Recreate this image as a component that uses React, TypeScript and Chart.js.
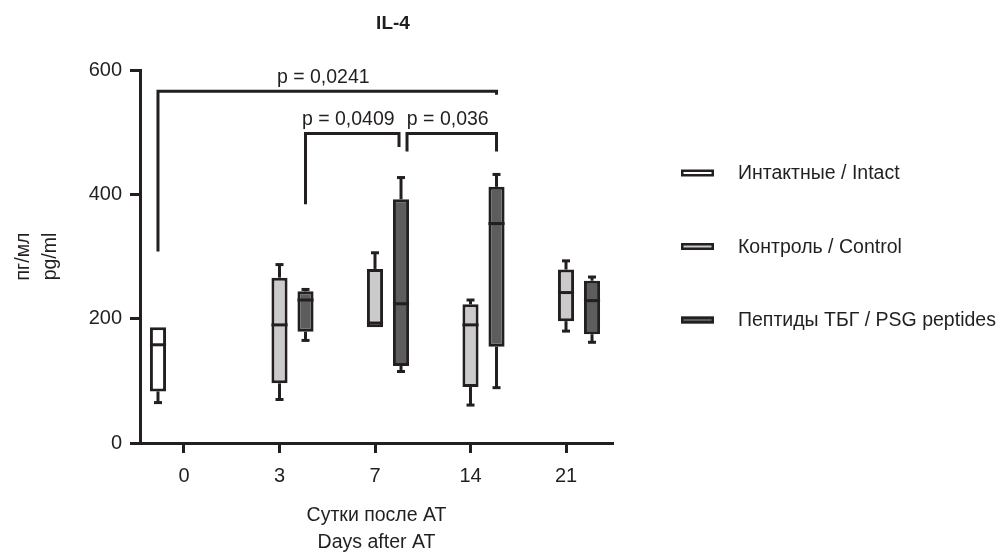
import React, { useEffect, useRef } from 'react';
import { Chart, registerables } from 'chart.js';

Chart.register(...registerables);

// ---------- data ----------
const chartTitle = 'IL-4';
const dayLabels = ['0', '3', '7', '14', '21'];
const yTicks = [0, 200, 400, 600];

const seriesNames = ['Интактные / Intact', 'Контроль / Control', 'Пептиды ТБГ / PSG peptides'];
const seriesFill = ['#ffffff', '#cbcbcb', '#5d5d5d'];

const intactMin = [65, null, null, null, null];
const intactQ1 = [83, null, null, null, null];
const intactMedian = [158, null, null, null, null];
const intactQ3 = [186, null, null, null, null];
const intactMax = [186, null, null, null, null];

const controlMin = [null, 70, 186, 61, 180];
const controlQ1 = [null, 96, 186, 90, 196];
const controlMedian = [null, 190, 193, 190, 242];
const controlQ3 = [null, 266, 280, 223, 279];
const controlMax = [null, 287, 306, 230, 293];

const psgMin = [null, 165, 115, 89, 162];
const psgQ1 = [null, 179, 124, 155, 175];
const psgMedian = [null, 230, 224, 353, 229];
const psgQ3 = [null, 244, 392, 412, 261];
const psgMax = [null, 247, 427, 432, 267];

const pLabels = ['p = 0,0241', 'p = 0,0409', 'p = 0,036'];
const bracketFromDay = [0, 1, 2];
const bracketFromSeries = [0, 2, 2];
const bracketToDay = [3, 2, 3];
const bracketToSeries = [2, 2, 2];
const bracketLevel = [566, 498, 498];
const bracketLeftEnd = [308, 384, 469];
const bracketRightEnd = [560, 476, 469];

// ---------- styles ----------
const INK = '#231f20';
const FONT = '"Liberation Sans", Arial, sans-serif';
const TICK_SIZE = 20;
const TEXT_SIZE = 19.5;

const stats = [
  { min: intactMin, q1: intactQ1, median: intactMedian, q3: intactQ3, max: intactMax },
  { min: controlMin, q1: controlQ1, median: controlMedian, q3: controlQ3, max: controlMax },
  { min: psgMin, q1: psgQ1, median: psgMedian, q3: psgQ3, max: psgMax },
];

function seg(ctx: CanvasRenderingContext2D, x1: number, y1: number, x2: number, y2: number) {
  ctx.beginPath();
  ctx.moveTo(x1, y1);
  ctx.lineTo(x2, y2);
  ctx.stroke();
}

const boxPlugin = {
  id: 'boxWhiskers',
  afterDatasetsDraw(chart: any) {
    const { ctx } = chart;
    const y = chart.scales.y;
    ctx.save();
    ctx.strokeStyle = INK;
    ctx.lineWidth = 3;
    ctx.lineCap = 'butt';
    stats.forEach((s, di) => {
      const meta = chart.getDatasetMeta(di);
      meta.data.forEach((el: any, i: number) => {
        if (s.q1[i] == null) return;
        const x = el.x;
        const half = el.width / 2;
        const yMed = y.getPixelForValue(s.median[i]);
        seg(ctx, x - half, yMed, x + half, yMed);
        const yQ1 = y.getPixelForValue(s.q1[i]);
        const yQ3 = y.getPixelForValue(s.q3[i]);
        const yMin = y.getPixelForValue(s.min[i]);
        const yMax = y.getPixelForValue(s.max[i]);
        if ((s.max[i] as number) > (s.q3[i] as number)) {
          seg(ctx, x, yQ3, x, yMax);
          seg(ctx, x - 4, yMax, x + 4, yMax);
        }
        if ((s.min[i] as number) < (s.q1[i] as number)) {
          seg(ctx, x, yQ1, x, yMin);
          seg(ctx, x - 4, yMin, x + 4, yMin);
        }
      });
    });
    ctx.restore();
  },
  afterDraw(chart: any) {
    const { ctx, chartArea } = chart;
    const y = chart.scales.y;
    ctx.save();
    // title
    ctx.fillStyle = INK;
    ctx.font = `bold 19px ${FONT}`;
    ctx.textAlign = 'center';
    ctx.textBaseline = 'middle';
    ctx.fillText(chartTitle, chartArea.left + 253, chartArea.top - 46);

    ctx.strokeStyle = INK;
    ctx.lineWidth = 3;
    ctx.lineCap = 'butt';
    ctx.lineJoin = 'miter';
    // significance brackets
    pLabels.forEach((label, b) => {
      const elL = chart.getDatasetMeta(bracketFromSeries[b]).data[bracketFromDay[b]];
      const elR = chart.getDatasetMeta(bracketToSeries[b]).data[bracketToDay[b]];
      let xl = elL.x;
      let xr = elR.x;
      pLabels.forEach((_, o) => {
        if (o === b) return;
        if (bracketToSeries[o] === bracketFromSeries[b] && bracketToDay[o] === bracketFromDay[b]) xl += 6;
        if (bracketFromSeries[o] === bracketToSeries[b] && bracketFromDay[o] === bracketToDay[b]) xr -= 2;
      });
      const yl = y.getPixelForValue(bracketLevel[b]);
      ctx.beginPath();
      ctx.moveTo(xl, y.getPixelForValue(bracketLeftEnd[b]));
      ctx.lineTo(xl, yl);
      ctx.lineTo(xr, yl);
      ctx.lineTo(xr, y.getPixelForValue(bracketRightEnd[b]));
      ctx.stroke();
      ctx.font = `${TEXT_SIZE}px ${FONT}`;
      ctx.textAlign = 'center';
      ctx.textBaseline = 'alphabetic';
      ctx.fillText(label, (xl + xr) / 2 - 4, yl - 8);
    });
    // legend
    const lx = chartArea.right + 68;
    seriesNames.forEach((name, i) => {
      const cy = chartArea.top + 103 + i * 73.5;
      ctx.fillStyle = seriesFill[i];
      ctx.fillRect(lx, cy - 3.5, 33, 7);
      ctx.lineWidth = 2.5;
      ctx.strokeStyle = INK;
      ctx.strokeRect(lx + 1.25, cy - 3.5 + 1.25, 33 - 2.5, 7 - 2.5);
      ctx.fillStyle = INK;
      ctx.font = `${TEXT_SIZE}px ${FONT}`;
      ctx.textAlign = 'left';
      ctx.textBaseline = 'middle';
      ctx.fillText(name, lx + 57, cy + 1);
    });
    ctx.restore();
  },
};

export default function App() {
  const ref = useRef<HTMLCanvasElement | null>(null);

  useEffect(() => {
    if (!ref.current) return;
    const tickFont = { family: FONT, size: TICK_SIZE, lineHeight: 1.2 };
    const titleFont = { family: FONT, size: TEXT_SIZE, lineHeight: 27 / TEXT_SIZE };
    const chart = new Chart(ref.current, {
      type: 'bar',
      data: {
        datasets: stats.map((s, di) => ({
          label: seriesNames[di],
          data: dayLabels.map((_, i) => ({ x: i, y: s.q1[i] == null ? null : [s.q1[i], s.q3[i]] })),
          backgroundColor: seriesFill[di],
          borderColor: INK,
          borderWidth: 3,
          borderSkipped: false,
          categoryPercentage: 0.817,
          barPercentage: 0.62,
        })) as any,
      },
      plugins: [boxPlugin],
      options: {
        animation: false,
        responsive: true,
        maintainAspectRatio: false,
        layout: { padding: { top: 70, left: 0, right: 390, bottom: 0 } },
        plugins: {
          legend: { display: false },
          tooltip: { enabled: false },
          title: { display: false },
        },
        scales: {
          x: {
            type: 'linear',
            offset: false,
            min: -0.4607,
            max: 4.492,
            afterBuildTicks: (axis: any) => {
              axis.ticks = dayLabels.map((_, i) => ({ value: i }));
            },
            afterFit: (axis: any) => {
              axis.height = 113;
            },
            ticks: {
              callback: (v: any) => dayLabels[v],
              font: tickFont,
              color: INK,
              padding: 11,
              autoSkip: false,
              maxRotation: 0,
            },
            grid: {
              display: true,
              offset: false,
              drawOnChartArea: false,
              drawTicks: true,
              tickLength: 10,
              tickWidth: 3,
              tickColor: INK,
            },
            border: { display: true, width: 3, color: INK },
            title: {
              display: true,
              text: ['Сутки после АТ', 'Days after AT'],
              color: INK,
              font: titleFont,
              padding: { top: 0, bottom: 0 },
            },
          },
          y: {
            min: 0,
            max: 600,
            afterBuildTicks: (axis: any) => {
              axis.ticks = yTicks.map((v) => ({ value: v }));
            },
            afterFit: (axis: any) => {
              axis.width = 140;
            },
            ticks: { font: tickFont, color: INK, padding: 8 },
            grid: { display: true, drawOnChartArea: false, drawTicks: true, tickLength: 10, tickWidth: 3, tickColor: INK },
            border: { display: true, width: 3, color: INK },
            title: {
              display: true,
              text: ['пг/мл', 'pg/ml'],
              color: INK,
              font: titleFont,
              padding: { top: 10, bottom: 0 },
            },
          },
        },
      } as any,
    });
    return () => chart.destroy();
  }, []);

  return (
    <div style={{ position: 'fixed', left: 0, top: 0, width: 1003, height: 556, background: '#fff' }}>
      <canvas ref={ref} />
    </div>
  );
}
